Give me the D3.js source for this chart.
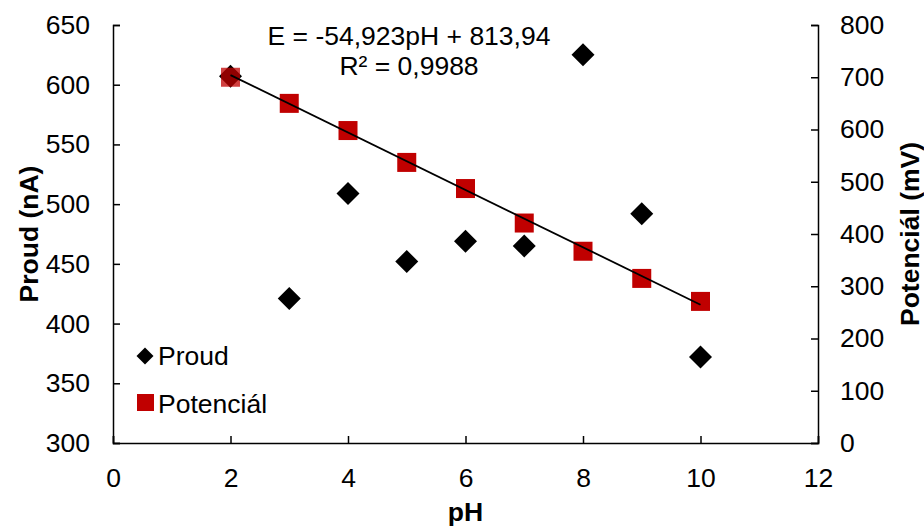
<!DOCTYPE html>
<html>
<head>
<meta charset="utf-8">
<script src="https://cdn.jsdelivr.net/npm/d3@7"></script>
<style>
  html, body { margin: 0; padding: 0; background: #fff; }
  svg text { font-family: "Liberation Sans", Arial, sans-serif; fill: #000; }
</style>
</head>
<body>
<div id="chart"></div>
<script>
// data
const phValues = [2, 3, 4, 5, 6, 7, 8, 9, 10];
const proudValues = [607, 421, 509, 452, 469, 465, 625, 492, 372];
const potencialValues = [700, 650, 598, 537, 487, 421, 367, 315, 271];
const trendSlope = -54.923;
const trendIntercept = 813.94;
const trendRange = [2, 10];
const equationLines = ["E = -54,923pH + 813,94", "R² = 0,9988"];
const xTicks = [0, 2, 4, 6, 8, 10, 12];
const leftTicks = [300, 350, 400, 450, 500, 550, 600, 650];
const rightTicks = [0, 100, 200, 300, 400, 500, 600, 700, 800];

const width = 924, height = 528;
const plotLeft = 113, plotRight = 818, plotTop = 25, plotBottom = 443;
const fontSize = 26.5;
const red = "#C00000";

const svg = d3.select("#chart").append("svg")
  .attr("width", width)
  .attr("height", height);

const x = d3.scaleLinear().domain([0, 12]).range([plotLeft, plotRight]);
const yL = d3.scaleLinear().domain([300, 650]).range([plotBottom, plotTop]);
const yR = d3.scaleLinear().domain([0, 800]).range([plotBottom, plotTop]);

// ==================================================
// Axes
// ==================================================
function styleAxis(g) {
  g.selectAll("path, line").attr("stroke", "#000").attr("stroke-width", 1.5);
  g.selectAll("text").style("font-size", fontSize + "px").attr("fill", "#000");
  g.attr("font-family", null);
}

svg.append("g")
  .attr("transform", `translate(0,${plotBottom})`)
  .call(d3.axisBottom(x).tickValues(xTicks).tickFormat(d3.format("d")).tickSize(-7).tickPadding(25))
  .call(styleAxis);

svg.append("g")
  .attr("transform", `translate(${plotLeft},0)`)
  .call(d3.axisLeft(yL).tickValues(leftTicks).tickFormat(d3.format("d")).tickSize(-7).tickPadding(23))
  .call(styleAxis);

svg.append("g")
  .attr("transform", `translate(${plotRight},0)`)
  .call(d3.axisRight(yR).tickValues(rightTicks).tickFormat(d3.format("d")).tickSize(-7).tickPadding(22))
  .call(styleAxis);

// axis titles
svg.append("text")
  .attr("x", (plotLeft + plotRight) / 2)
  .attr("y", 521)
  .attr("text-anchor", "middle")
  .style("font-size", fontSize + "px")
  .style("font-weight", "bold")
  .text("pH");

svg.append("text")
  .attr("transform", `translate(38,${(plotTop + plotBottom) / 2}) rotate(-90)`)
  .attr("text-anchor", "middle")
  .style("font-size", fontSize + "px")
  .style("font-weight", "bold")
  .text("Proud (nA)");

svg.append("text")
  .attr("transform", `translate(919,${(plotTop + plotBottom) / 2}) rotate(-90)`)
  .attr("text-anchor", "middle")
  .style("font-size", fontSize + "px")
  .style("font-weight", "bold")
  .text("Potenciál (mV)");

// ==================================================
// Marks
// ==================================================
const diamond = r => `M0,${-r} L${r},0 L0,${r} L${-r},0 Z`;

const proudData = phValues.map((p, i) => ({ ph: p, v: proudValues[i] }));
const potData = phValues.map((p, i) => ({ ph: p, v: potencialValues[i] }));

svg.append("g").selectAll("path")
  .data(proudData)
  .join("path")
  .attr("d", diamond(11.5))
  .attr("transform", d => `translate(${x(d.ph)},${yL(d.v)})`)
  .attr("fill", "#000");

const sq = 19;
svg.append("g").selectAll("rect")
  .data(potData)
  .join("rect")
  .attr("x", d => x(d.ph) - sq / 2)
  .attr("y", d => yR(d.v) - sq / 2)
  .attr("width", sq)
  .attr("height", sq)
  .attr("fill", red)
  .attr("fill-opacity", (d, i) => i === 0 ? 0.75 : 1);

// linear trend line
svg.append("line")
  .attr("x1", x(trendRange[0]))
  .attr("y1", yR(trendSlope * trendRange[0] + trendIntercept))
  .attr("x2", x(trendRange[1]))
  .attr("y2", yR(trendSlope * trendRange[1] + trendIntercept))
  .attr("stroke", "#000")
  .attr("stroke-width", 1.8);

// equation label
equationLines.forEach((t, i) => {
  svg.append("text")
    .attr("x", 409)
    .attr("y", 45 + i * 30)
    .attr("text-anchor", "middle")
    .style("font-size", fontSize + "px")
    .text(t);
});

// ==================================================
// Legend
// ==================================================
const legend = svg.append("g");
legend.append("path")
  .attr("d", diamond(8.5))
  .attr("transform", "translate(145,356)")
  .attr("fill", "#000");
legend.append("text")
  .attr("x", 158).attr("y", 365)
  .style("font-size", fontSize + "px")
  .text("Proud");
legend.append("rect")
  .attr("x", 137).attr("y", 394)
  .attr("width", 17).attr("height", 17)
  .attr("fill", red);
legend.append("text")
  .attr("x", 158).attr("y", 413)
  .style("font-size", fontSize + "px")
  .text("Potenciál");
</script>
</body>
</html>
